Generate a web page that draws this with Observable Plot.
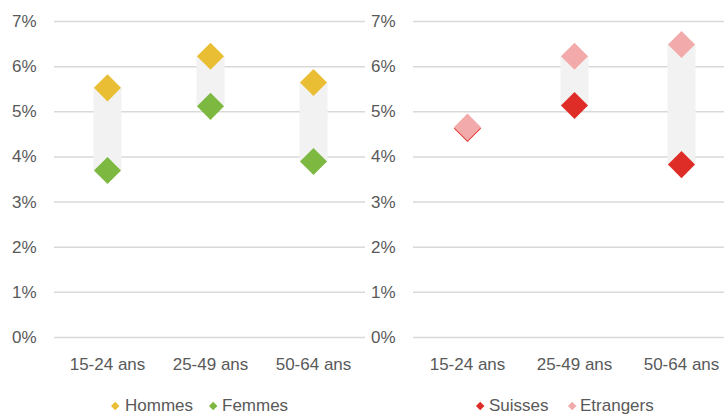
<!DOCTYPE html>
<html>
<head>
<meta charset="utf-8">
<script src="https://cdn.jsdelivr.net/npm/d3@7"></script>
<script src="https://cdn.jsdelivr.net/npm/@observablehq/plot@0.6"></script>
<style>
  html, body { margin: 0; padding: 0; background: #fff; }
  #wrap { position: relative; width: 724px; height: 415px; overflow: hidden; font-family: "Liberation Sans", Arial, sans-serif; color: #595959; }
  .panel { position: absolute; top: 0; }
  .leg { position: absolute; top: 396px; font-size: 17px; line-height: 20px; white-space: nowrap; }
  .sw { position: absolute; width: 6.4px; height: 6.4px; transform: rotate(45deg); }
</style>
</head>
<body>
<div id="wrap"></div>
<script>
const categories = ["15-24 ans", "25-49 ans", "50-64 ans"];
const hommes = [5.53, 6.23, 5.65];
const femmes = [3.70, 5.12, 3.90];
const suisses = [4.63, 5.14, 3.83];
const etrangers = [4.66, 6.23, 6.49];
const yTicks = [0, 1, 2, 3, 4, 5, 6, 7];

const colHommes = "#E9BE34";
const colFemmes = "#7DB941";
const colSuisses = "#DE2D26";
const colEtrangers = "#F2AAAA";

const FONT = '"Liberation Sans", Arial, sans-serif';

function panel(series, opts) {
  const rows = categories.map((c, i) => {
    const r = {cat: c};
    series.forEach(s => r[s.name] = s.values[i]);
    r.lo = Math.min(...series.map(s => s.values[i]));
    r.hi = Math.max(...series.map(s => s.values[i]));
    return r;
  });
  return Plot.plot({
    width: opts.width,
    height: 375,
    marginTop: 21,
    marginBottom: 38,
    marginLeft: opts.marginLeft,
    marginRight: opts.marginRight,
    style: {fontFamily: FONT, fontSize: "17px", color: "#595959", background: "transparent", overflow: "visible"},
    x: {type: "point", domain: categories, padding: 0.5},
    y: {domain: [0, 7]},
    marks: [
      Plot.gridY(yTicks, {stroke: "#d9d9d9", strokeOpacity: 1, strokeWidth: 1.5}),
      Plot.ruleX(rows, {x: "cat", y1: "lo", y2: "hi", stroke: "#f2f2f2", strokeWidth: 28}),
      ...series.map(s => Plot.dot(rows, {x: "cat", y: s.name, symbol: "diamond2", r: 12.2, fill: s.color, stroke: "none"})),
      Plot.axisY(yTicks, {tickSize: 0, tickPadding: 18, tickFormat: d => d + "%", fontSize: 17}),
      Plot.axisX({tickSize: 0, tickPadding: 20, fontSize: 17, label: null})
    ]
  });
}

const wrap = document.getElementById("wrap");

const left = panel([
  {name: "Hommes", values: hommes, color: colHommes},
  {name: "Femmes", values: femmes, color: colFemmes}
], {width: 366, marginLeft: 54, marginRight: 1});
left.classList.add("panel");
left.style.left = "0px";
wrap.appendChild(left);

const right = panel([
  {name: "Suisses", values: suisses, color: colSuisses},
  {name: "Etrangers", values: etrangers, color: colEtrangers}
], {width: 369, marginLeft: 47, marginRight: 0});
right.classList.add("panel");
right.style.left = "366px";
wrap.appendChild(right);

const legendItems = [
  {label: "Hommes", color: colHommes, dx: 115, tx: 125},
  {label: "Femmes", color: colFemmes, dx: 213, tx: 222},
  {label: "Suisses", color: colSuisses, dx: 480, tx: 489},
  {label: "Etrangers", color: colEtrangers, dx: 572, tx: 580}
];
legendItems.forEach(it => {
  const sw = document.createElement("span");
  sw.className = "sw";
  sw.style.left = (it.dx - 3.2) + "px";
  sw.style.top = (406 - 3.2) + "px";
  sw.style.background = it.color;
  wrap.appendChild(sw);
  const t = document.createElement("span");
  t.className = "leg";
  t.style.left = it.tx + "px";
  t.textContent = it.label;
  wrap.appendChild(t);
});
</script>
</body>
</html>
